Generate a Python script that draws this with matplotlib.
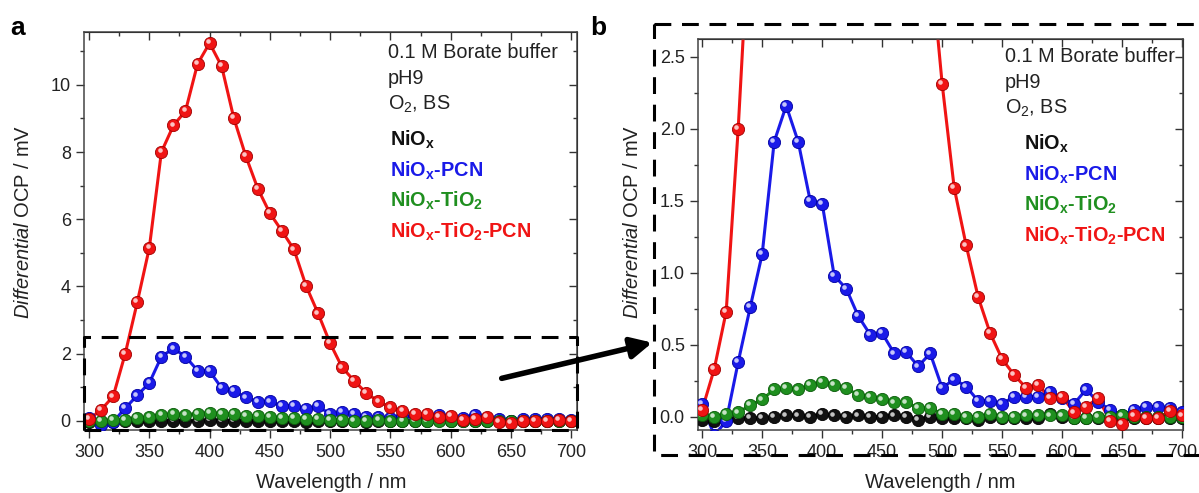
import numpy as np
import matplotlib
matplotlib.use('Agg')
import matplotlib.pyplot as plt
from matplotlib.transforms import offset_copy
from matplotlib.ticker import MultipleLocator, FormatStrFormatter

plt.rcParams['font.family'] = ['Liberation Sans', 'DejaVu Sans']
plt.rcParams['mathtext.fontset'] = 'custom'
plt.rcParams['mathtext.rm'] = 'Liberation Sans'
plt.rcParams['mathtext.it'] = 'Liberation Sans:italic'
plt.rcParams['mathtext.bf'] = 'Liberation Sans:bold'

# wavelength / nm
wl = np.arange(300, 701, 10)

nio = [-0.02, -0.03, -0.02, -0.01, -0.01, -0.01, 0.0, 0.01, 0.01, 0.0,
       0.02, 0.01, 0.0, 0.01, 0.0, 0.0, 0.01, 0.0, -0.02, 0.0,
       -0.01, -0.01, -0.01, -0.02, 0.0, -0.01, -0.01, -0.01, -0.01, 0.02,
       0.0, -0.01, -0.01, -0.01, -0.01, 0.0, -0.01, -0.01, -0.01, -0.01, -0.01]

nio_pcn = [0.09, -0.13, -0.03, 0.38, 0.76, 1.13, 1.91, 2.16, 1.91, 1.50,
           1.48, 0.98, 0.89, 0.70, 0.57, 0.58, 0.44, 0.45, 0.35, 0.44,
           0.20, 0.26, 0.21, 0.11, 0.11, 0.09, 0.14, 0.14, 0.14, 0.17,
           0.13, 0.09, 0.19, 0.10, 0.05, 0.01, 0.05, 0.07, 0.07, 0.06, 0.03]

nio_tio2 = [0.01, 0.0, 0.02, 0.03, 0.08, 0.12, 0.19, 0.20, 0.19, 0.22,
            0.24, 0.22, 0.20, 0.15, 0.14, 0.12, 0.10, 0.10, 0.06, 0.06,
            0.02, 0.02, 0.0, 0.0, 0.02, 0.0, 0.0, 0.01, 0.01, 0.01,
            0.01, -0.01, -0.01, 0.0, 0.0, 0.01, 0.0, 0.0, 0.0, 0.0, 0.0]

nio_tio2_pcn = [0.05, 0.33, 0.73, 2.0, 3.53, 5.15, 8.0, 8.79, 9.22, 10.62,
                11.24, 10.55, 9.02, 7.88, 6.91, 6.18, 5.65, 5.1, 4.02, 3.2,
                2.31, 1.59, 1.19, 0.83, 0.58, 0.40, 0.29, 0.20, 0.22, 0.13,
                0.14, 0.03, 0.07, 0.13, -0.03, -0.05, 0.01, -0.01, -0.01, 0.04, 0.01]

series = [
    ('NiO$_\\mathbf{x}$', nio, '#111111', '#000000'),
    ('NiO$_\\mathbf{x}$-PCN', nio_pcn, '#1a1ae8', '#0000a0'),
    ('NiO$_\\mathbf{x}$-TiO$_\\mathbf{2}$', nio_tio2, '#1f8f1f', '#0a5a0a'),
    ('NiO$_\\mathbf{x}$-TiO$_\\mathbf{2}$-PCN', nio_tio2_pcn, '#f01414', '#a00000'),
]
info_lines = ['0.1 M Borate buffer', 'pH9', 'O$_2$, BS']

W, H = 1199, 493
fig = plt.figure(figsize=(W / 100, H / 100), dpi=100)


def px_axes(l, t, r, b):
    return fig.add_axes([l / W, 1 - b / H, (r - l) / W, (b - t) / H])


ax_a = px_axes(84, 32, 577, 430)
ax_b = px_axes(698, 39, 1183, 430)


def draw(ax):
    hl = offset_copy(ax.transData, fig=fig, x=-1.3, y=1.3, units='points')
    for name, y, c, dark in series:
        ax.plot(wl, y, '-', color=c, lw=2.2, zorder=2)
        ax.plot(wl, y, 'o', color=c, ms=8.8, mec=dark, mew=0.6, zorder=3)
        ax.plot(wl, y, 'o', color='white', ms=3.3, mew=0, alpha=0.75,
                transform=hl, zorder=3)


def style(ax, xl, yl, ymaj, ymin, fmt):
    ax.set_xlim(*xl)
    ax.set_ylim(*yl)
    ax.xaxis.set_major_locator(MultipleLocator(50))
    ax.xaxis.set_minor_locator(MultipleLocator(25))
    ax.yaxis.set_major_locator(MultipleLocator(ymaj))
    ax.yaxis.set_minor_locator(MultipleLocator(ymin))
    ax.yaxis.set_major_formatter(FormatStrFormatter(fmt))
    ax.tick_params(which='both', direction='out', labelsize=13,
                   colors='#333333', labelcolor='#222222')
    ax.tick_params(which='major', length=6, width=1)
    ax.tick_params(which='minor', length=3, width=1)
    ax.tick_params(axis='x', pad=4)
    for s in ax.spines.values():
        s.set_color('#444444')
        s.set_linewidth(1.1)
    top = ax.secondary_xaxis('top')
    right = ax.secondary_yaxis('right')
    for sec in (top, right):
        sec.tick_params(which='both', direction='in', labelleft=False,
                        labelright=False, labeltop=False, colors='#333333')
        sec.tick_params(which='major', length=6, width=1)
        sec.tick_params(which='minor', length=3, width=1)
    top.xaxis.set_major_locator(MultipleLocator(50))
    top.xaxis.set_minor_locator(MultipleLocator(25))
    right.yaxis.set_major_locator(MultipleLocator(ymaj))
    right.yaxis.set_minor_locator(MultipleLocator(ymin))


draw(ax_a)
style(ax_a, (295.8, 704.8), (-0.27, 11.57), 2, 1, '%d')

draw(ax_b)
style(ax_b, (296.5, 700.7), (-0.092, 2.623), 0.5, 0.25, '%.1f')

# dashed zoom window in panel a
dash = (0, (5.5, 3.5))
x0, x1 = ax_a.get_xlim()
y0 = ax_a.get_ylim()[0]
ax_a.plot([x0, x1, x1, x0, x0], [y0, y0, 2.5, 2.5, y0], color='black', lw=2.2,
          ls=dash, clip_on=False, zorder=4)

# dashed frame round panel b
fx = [654 / W, 1.01, 1.01, 654 / W, 654 / W]
fy = [1 - 24 / H, 1 - 24 / H, 1 - 455 / H, 1 - 455 / H, 1 - 24 / H]
fig.add_artist(plt.Line2D(fx, fy, transform=fig.transFigure, color='black',
                          lw=2.2, ls=dash))

# arrow between panels
fig.add_artist(matplotlib.patches.FancyArrowPatch(
    (499 / W, 1 - 379 / H), (655 / W, 1 - 342 / H), transform=fig.transFigure,
    arrowstyle='-|>,head_length=0.9,head_width=0.45', mutation_scale=14,
    color='black', lw=4))

# axis titles
for cx, cy in [(331, 482), (940, 482)]:
    fig.text(cx / W, 1 - cy / H, 'Wavelength / nm', ha='center', va='center',
             fontsize=14.5, color='#222222')
for cx, cy in [(24, 222), (633, 222)]:
    fig.text(cx / W, 1 - cy / H, '$\\it{Differential}$ OCP / mV', rotation=90,
             ha='center', va='center', fontsize=14.5, color='#222222')

fig.text(10 / W, 1 - 28 / H, 'a', fontsize=19, fontweight='bold', va='center')
fig.text(590 / W, 1 - 28 / H, 'b', fontsize=19, fontweight='bold', va='center')

# condition text and coloured legend
for lx, ly0, bx in [(388, 53, 390), (1005, 57, 1024)]:
    for i, t in enumerate(info_lines):
        fig.text(lx / W, 1 - (ly0 + 25.5 * i) / H, t, fontsize=14.3,
                 va='center', color='#222222')
    for i, (name, y, c, dark) in enumerate(series):
        fig.text(bx / W, 1 - (ly0 + 87 + 30.5 * i) / H, name, fontsize=14.3,
                 fontweight='bold', va='center', color=c)

fig.savefig('out.png', dpi=100)
